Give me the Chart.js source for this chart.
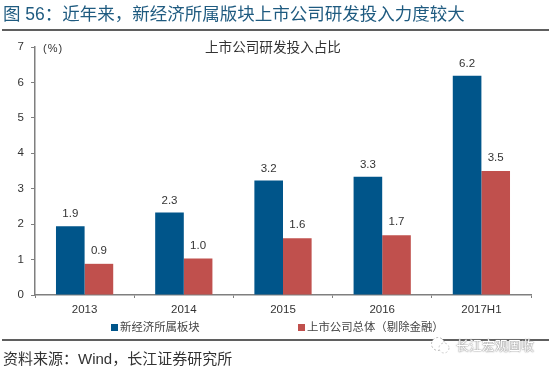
<!DOCTYPE html>
<html lang="zh">
  <head>
    <meta charset="UTF-8" />
    <title>图 56</title>
    <style>
      * {
        margin: 0;
        padding: 0;
      }
      body {
        width: 550px;
        height: 369px;
        background: #fff;
        overflow: hidden;
        position: relative;
        font-family: "Liberation Sans", "Noto Sans CJK SC", sans-serif;
      }
      #chartBox {
        position: absolute;
        left: 0;
        top: 0;
        width: 550px;
        height: 369px;
      }
      .txt {
        position: absolute;
        white-space: nowrap;
        line-height: 1;
      }
      .rule {
        position: absolute;
        left: 2px;
        width: 547px;
        height: 2px;
        background: #5f5f5f;
      }
      #mainTitle {
        left: 3px;
        top: 6px;
        font-size: 17.5px;
        color: #1f5b80;
      }
      #chartTitle {
        left: 205px;
        top: 41px;
        font-size: 13.6px;
        color: #333;
      }
      #unit {
        left: 43px;
        top: 43px;
        font-size: 11px;
        letter-spacing: 1px;
        color: #333;
      }
      #source {
        left: 3px;
        top: 351px;
        font-size: 15px;
        color: #333;
      }
      #mark {
        left: 456px;
        top: 339px;
        font-size: 13px;
        color: #fff;
        text-shadow: 0 0 1px #666, 0 0 2px #999;
      }
      #icon {
        position: absolute;
        left: 430px;
        top: 336px;
      }
      .key {
        position: absolute;
        top: 324px;
        width: 7px;
        height: 7px;
      }
      .keyText {
        top: 322px;
        font-size: 11.4px;
        color: #444;
      }
    </style>
  </head>
  <body>
    <div id="chartBox"><canvas id="myChart" width="550" height="369"></canvas></div>

    <div class="rule" style="top: 29px"></div>
    <div class="rule" style="top: 339px"></div>
    <div id="mainTitle" class="txt">图 56：近年来，新经济所属版块上市公司研发投入力度较大</div>
    <div id="chartTitle" class="txt">上市公司研发投入占比</div>
    <div id="unit" class="txt">(%)</div>
    <div class="key" style="left: 111px; background: #00558a"></div>
    <div id="key0" class="txt keyText" style="left: 120px"></div>
    <div class="key" style="left: 298px; background: #c0504d"></div>
    <div id="key1" class="txt keyText" style="left: 307px"></div>
    <div id="source" class="txt">资料来源：Wind，长江证券研究所</div>
    <svg id="icon" width="22" height="20" viewBox="0 0 22 20">
      <circle cx="8" cy="8" r="6.5" fill="#fff" stroke="#bbb" stroke-dasharray="2 2" />
      <circle cx="14" cy="12" r="5" fill="#fff" stroke="#ccc" stroke-dasharray="2 2" />
    </svg>
    <div id="mark" class="txt">长江宏观固收</div>

    <script src="https://cdn.jsdelivr.net/npm/chart.js"></script>

    <script>
      // data block
      const categories = ["2013", "2014", "2015", "2016", "2017H1"];
      const newEconomy = [1.94, 2.33, 3.23, 3.34, 6.19];
      const allListed = [0.88, 1.03, 1.6, 1.69, 3.5];
      const seriesNames = ["新经济所属板块", "上市公司总体（剔除金融）"];
      const yTicks = [0, 1, 2, 3, 4, 5, 6, 7];

      document.getElementById("key0").textContent = seriesNames[0];
      document.getElementById("key1").textContent = seriesNames[1];

      const font = "Liberation Sans";

      // value labels above the bars
      const valueLabels = {
        id: "valueLabels",
        afterDatasetsDraw: function (chart) {
          const { ctx } = chart;
          ctx.save();
          ctx.font = `11.5px "${font}"`;
          ctx.fillStyle = "#333";
          ctx.textAlign = "center";
          ctx.textBaseline = "middle";
          chart.data.datasets.forEach((dataset, i) => {
            chart.getDatasetMeta(i).data.forEach((bar, j) => {
              ctx.fillText(dataset.data[j].toFixed(1), bar.x, bar.y - (i === 0 ? 12 : 13));
            });
          });
          ctx.restore();
        }
      };

      const config = {
        type: "bar",
        data: {
          labels: categories,
          datasets: [
            { label: seriesNames[0], data: newEconomy, backgroundColor: "#00558a" },
            { label: seriesNames[1], data: allListed, backgroundColor: "#c0504d" }
          ]
        },
        options: {
          responsive: false,
          animation: false,
          layout: { padding: { left: 0, right: 19, top: 47, bottom: 0 } },
          datasets: { bar: { barPercentage: 1, categoryPercentage: 0.577 } },
          plugins: {
            legend: { display: false },
            title: { display: false },
            tooltip: { enabled: false }
          },
          scales: {
            x: {
              afterFit: (scale) => {
                scale.height = 74;
              },
              border: { color: "#7f7f7f", width: 1.5 },
              grid: { drawOnChartArea: false, tickLength: 3, tickColor: "#7f7f7f" },
              ticks: {
                color: "#333",
                padding: 5,
                maxRotation: 0,
                font: { family: font, size: 11.5 }
              }
            },
            y: {
              min: 0,
              max: 7,
              afterFit: (scale) => {
                scale.width = 35;
              },
              afterBuildTicks: (scale) => {
                scale.ticks = yTicks.map((value) => ({ value }));
              },
              border: { color: "#7f7f7f", width: 1.5 },
              grid: { drawOnChartArea: false, tickLength: 4, tickColor: "#7f7f7f" },
              ticks: {
                color: "#333",
                padding: 7,
                font: { family: font, size: 11.5 }
              }
            }
          }
        },
        plugins: [valueLabels]
      };

      const myChart = new Chart(document.getElementById("myChart"), config);
    </script>
  </body>
</html>
